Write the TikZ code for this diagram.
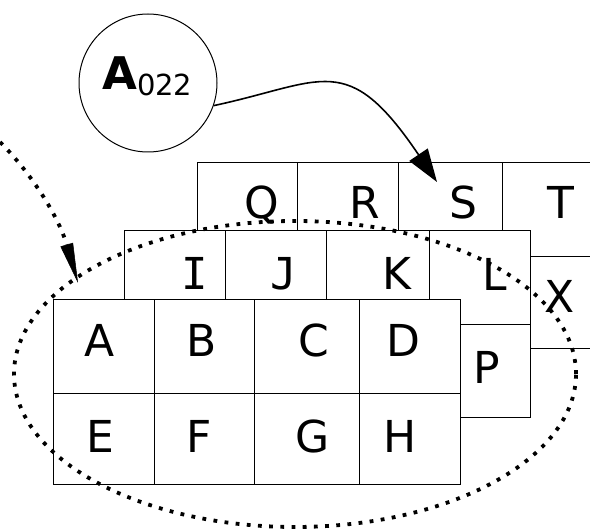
\documentclass[tikz,border=0pt]{standalone}
\usepackage{fontspec}
\setmainfont{DejaVu Sans}
\newfontfamily\monofam{DejaVu Sans Mono}
\usetikzlibrary{arrows.meta,shapes.geometric}
\begin{document}
\begin{tikzpicture}[x=1pt,y=-1pt,
  cell/.style={draw, line width=1pt, fill=white, inner sep=0pt, anchor=north west},
  lbl/.style={anchor=base, inner sep=0pt, font=\fontsize{44}{44}\selectfont},
  dots/.style={line width=3.8pt, dash pattern=on 3.8pt off 7.4pt}]
\useasboundingbox (0,0) rectangle (590,529);
% back layer
\node[cell, minimum width=100pt, minimum height=94pt] (Q) at (197,162) {};
\node[cell, minimum width=101pt, minimum height=94pt] (R) at (297,162) {};
\node[cell, minimum width=104pt, minimum height=94pt] (S) at (398,162) {};
\node[cell, minimum width=94pt, minimum height=94pt] (T) at (502,162) {};
\node[cell, minimum width=94pt, minimum height=92pt] (X) at (502,256) {};
\node[lbl] (lQ) at (262,219) {Q};
\node[lbl] (lR) at (365,219) {R};
\node[lbl] (lS) at (463,219) {S};
\node[lbl] (lT) at (561,219) {T};
\node[lbl] (lX) at (560,313) {X};
% middle layer
\node[cell, minimum width=101pt, minimum height=94pt] (I) at (124,230) {};
\node[cell, minimum width=101pt, minimum height=94pt] (J) at (225,230) {};
\node[cell, minimum width=103pt, minimum height=94pt] (K) at (326,230) {};
\node[cell, minimum width=101pt, minimum height=94pt] (L) at (429,230) {};
\node[cell, minimum width=101pt, minimum height=93pt] (P) at (429,324) {};
\node[lbl, font=\fontsize{44}{44}\selectfont\monofam] (lI) at (195,290) {I};
\node[lbl, font=\fontsize{44}{44}\selectfont\monofam] (lJ) at (284,290) {J};
\node[lbl] (lK) at (397,290) {K};
\node[lbl] (lL) at (495,291) {L};
\node[lbl] (lP) at (487,384) {P};
% front layer
\node[cell, minimum width=101pt, minimum height=94pt] (A) at (53,299) {};
\node[cell, minimum width=100pt, minimum height=94pt] (B) at (154,299) {};
\node[cell, minimum width=105pt, minimum height=94pt] (C) at (254,299) {};
\node[cell, minimum width=101pt, minimum height=94pt] (D) at (359,299) {};
\node[cell, minimum width=101pt, minimum height=91pt] (E) at (53,393) {};
\node[cell, minimum width=100pt, minimum height=91pt] (F) at (154,393) {};
\node[cell, minimum width=105pt, minimum height=91pt] (G) at (254,393) {};
\node[cell, minimum width=101pt, minimum height=91pt] (H) at (359,393) {};
\node[lbl] (lA) at (100,357) {A};
\node[lbl] (lB) at (202,357) {B};
\node[lbl] (lC) at (314,357) {C};
\node[lbl] (lD) at (403,357) {D};
\node[lbl] (lE) at (100,453) {E};
\node[lbl] (lF) at (199,453) {F};
\node[lbl] (lG) at (313,453) {G};
\node[lbl] (lH) at (400,453) {H};
% dotted ellipse
\node[draw, ellipse, dots, inner sep=0pt, minimum width=562pt, minimum height=306pt] (ell) at (295,374) {};
% circle
\node[draw, circle, line width=1pt, minimum size=138pt, inner sep=0pt] (c) at (148,83) {};
\node[anchor=base west, inner sep=0pt] (ctext) at (102,90) {{\fontsize{45}{45}\selectfont\bfseries A}\raisebox{-6pt}{\fontsize{29}{29}\selectfont 022}};
% arrows
\coordinate (stip) at (437,182);
\coordinate (lstart) at (0,142);
\coordinate (ltip) at (78,283);
\draw[line width=1.6pt, -{Triangle[length=33pt,width=22pt]}] (c.-19) .. controls (324,82) and (347,49) .. (stip);
\draw[dots, -{Triangle[length=40pt,width=13pt,line width=0.5pt]}] (lstart) .. controls (30,172) and (58,215) .. (ltip);
\end{tikzpicture}
\end{document}
